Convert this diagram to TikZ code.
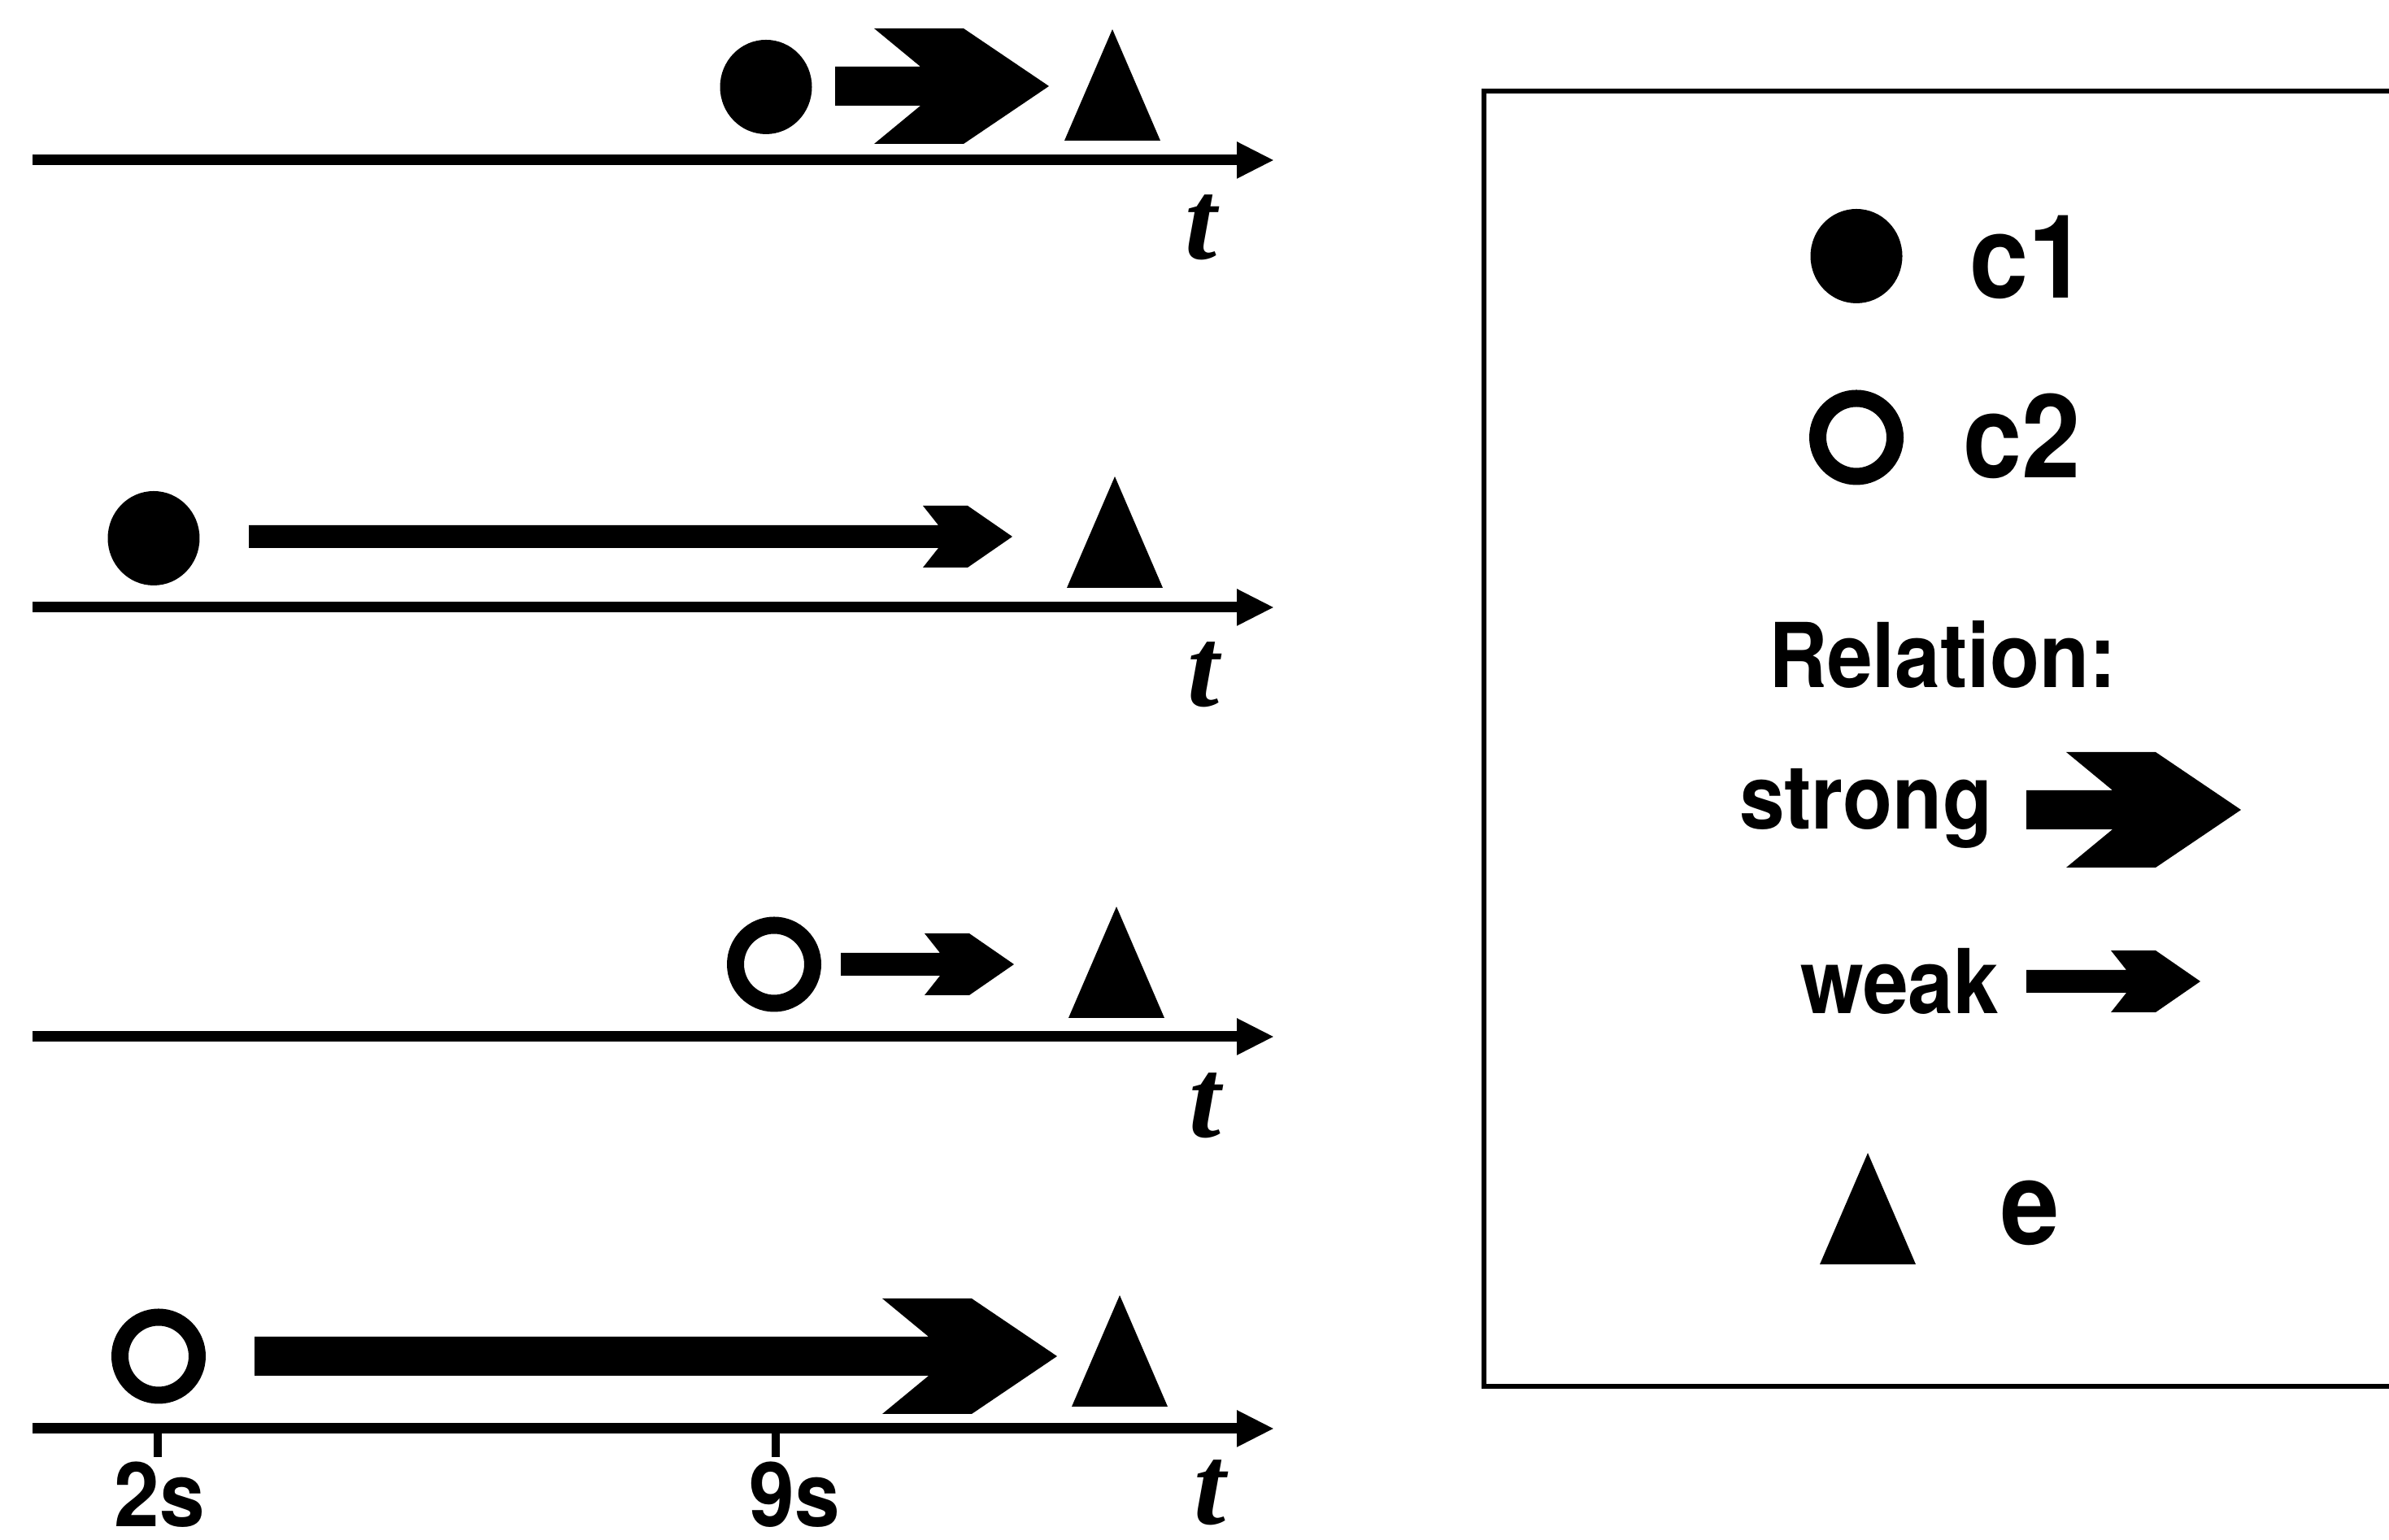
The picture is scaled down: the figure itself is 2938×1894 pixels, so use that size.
\documentclass[tikz,border=0pt]{standalone}
\usepackage{fontspec,graphicx}
\usepackage{tikz}
\usetikzlibrary{arrows.meta,calc,shapes.geometric}
\newfontfamily\helv{TeX Gyre Heros}
\newfontfamily\tfont{Liberation Serif}
\newcommand{\tallt}[1]{\scalebox{1}[1.1]{#1}}
% block arrows for the relations, from start point to tip
\newcommand{\strongrel}[2]{\fill ($(#1)+(0pt,2.4pt)$) -- ($(#2)+(-15.8pt,2.4pt)$) -- ($(#2)+(-21.5pt,7.1pt)$) -- ($(#2)+(-10.5pt,7.1pt)$) -- (#2) -- ($(#2)+(-10.5pt,-7.1pt)$) -- ($(#2)+(-21.5pt,-7.1pt)$) -- ($(#2)+(-15.8pt,-2.4pt)$) -- ($(#1)+(0pt,-2.4pt)$) -- cycle;}
\newcommand{\weakrel}[2]{\fill ($(#1)+(0pt,1.4pt)$) -- ($(#2)+(-9.1pt,1.4pt)$) -- ($(#2)+(-11pt,3.8pt)$) -- ($(#2)+(-5.5pt,3.8pt)$) -- (#2) -- ($(#2)+(-5.5pt,-3.8pt)$) -- ($(#2)+(-11pt,-3.8pt)$) -- ($(#2)+(-9.1pt,-1.4pt)$) -- ($(#1)+(0pt,-1.4pt)$) -- cycle;}
\newcommand{\evtri}[1]{\fill ($(#1)+(-5.9pt,0pt)$) -- ($(#1)+(0pt,13.7pt)$) -- ($(#1)+(5.9pt,0pt)$) -- cycle;}

\begin{document}
\begin{tikzpicture}[x=0.1pt,y=-0.1pt,
lbl/.style={font=\helv\bfseries\fontsize{10}{12}\selectfont,inner sep=0,anchor=base west},
big/.style={lbl,font=\helv\bfseries\fontsize{13}{15}\selectfont},
tlbl/.style={font=\tfont\bfseries\itshape\fontsize{14}{16}\selectfont,inner sep=0},
cfull/.style={ellipse,fill,minimum width=11.3pt,minimum height=11.6pt,inner sep=0},
cempty/.style={ellipse,draw,line width=2.1pt,minimum width=9.5pt,minimum height=9.6pt,inner sep=0},
axis/.style={line width=1.3pt,-{Triangle[length=4.6pt,width=4.2pt]}}]
\useasboundingbox (0,0) rectangle (2938,1894);

% time axes
\foreach \r/\y in {1/197,2/747,3/1275,4/1757}{
  \coordinate (ax\r) at (40,\y); \coordinate (ay\r) at (1567,\y);
  \draw[axis] (ax\r) -- (ay\r);}
\node[tlbl] (t1) at (1477,280) {t};
\node[tlbl] (t2) at (1480,830) {t};
\node[tlbl] (t3) at (1482,1360) {t};
\node[tlbl] (t4) at (1488,1836) {t};
\coordinate (k2) at (194,1757); \coordinate (k9) at (954,1757);
\draw[line width=1pt] (k2) -- ++(0,35) (k9) -- ++(0,35);
\node[lbl,anchor=base] (s2) at (196,1878) {\tallt{2s}};
\node[lbl,anchor=base] (s9) at (977,1878) {\tallt{9s}};

% row 1: c1 strong
\node[cfull] (ca) at (942,107) {};
\coordinate (pa) at (1027,106); \coordinate (qa) at (1290,106);
\strongrel{pa}{qa}
\coordinate (ea) at (1368,173); \evtri{ea}
% row 2: c1 weak
\node[cfull] (cb) at (189,662) {};
\coordinate (pb) at (306,660); \coordinate (qb) at (1245,660);
\weakrel{pb}{qb}
\coordinate (eb) at (1371,723); \evtri{eb}
% row 3: c2 weak
\node[cempty] (cc) at (952,1186) {};
\coordinate (pc) at (1034,1186); \coordinate (qc) at (1247,1186);
\weakrel{pc}{qc}
\coordinate (ec) at (1373,1252); \evtri{ec}
% row 4: c2 strong
\node[cempty] (cd) at (195,1668) {};
\coordinate (pd) at (313,1668); \coordinate (qd) at (1300,1668);
\strongrel{pd}{qd}
\coordinate (ed) at (1377,1730); \evtri{ed}

% legend
\draw[line width=0.6pt] (2938,112) -| (1825,1705) -- (2938,1705);
\node[cfull] (lc1) at (2283,315) {};
\node[big] (tc1) at (2420,367) {\tallt{c1}};
\node[cempty] (lc2) at (2283,538) {};
\node[big] (tc2) at (2412,588) {\tallt{c2}};
\node[lbl] (rel) at (2173,846) {\tallt{Relation:}};
\node[lbl] (str) at (2137,1020) {\tallt{strong}};
\coordinate (ls) at (2492,996); \coordinate (lt) at (2756,996);
\strongrel{ls}{lt}
\node[lbl] (wk) at (2212,1247) {\tallt{weak}};
\coordinate (lw) at (2492,1207); \coordinate (lx) at (2706,1207);
\weakrel{lw}{lx}
\coordinate (le) at (2297,1555); \evtri{le}
\node[big] (te) at (2458,1531) {\tallt{e}};
\end{tikzpicture}
\end{document}
